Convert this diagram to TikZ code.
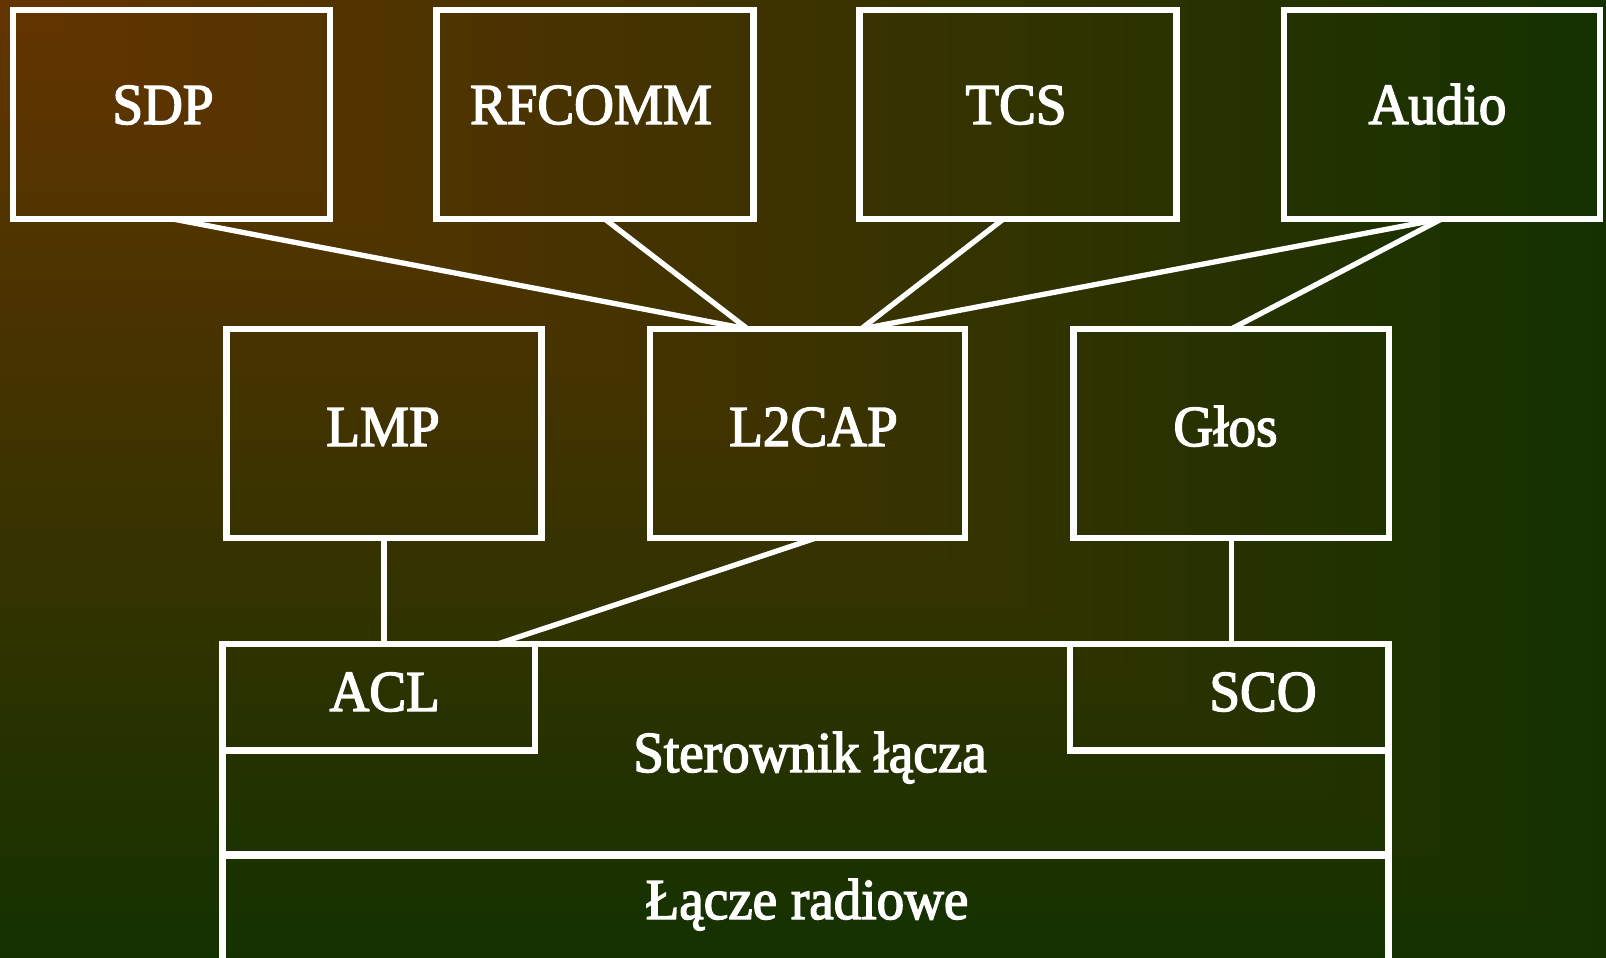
\documentclass[tikz,border=0pt]{standalone}
\usepackage{fontspec}
\setmainfont{Liberation Serif}[FakeStretch=0.95,FakeBold=2.5]
\usetikzlibrary{calc}
\definecolor{gStart}{RGB}{100,52,0}
\definecolor{gEnd}{RGB}{20,50,0}
\tikzset{
  box/.style={draw=white, line width=6.5pt, inner sep=0pt, outer sep=0pt},
  lbl/.style={text=white, inner sep=0pt, outer sep=0pt, anchor=base,
              font=\fontsize{58}{60}\selectfont},
  conn/.style={draw=white, line width=5.3pt},
  divider/.style={draw=white, line width=8.3pt}
}
\begin{document}
\begin{tikzpicture}[x=1pt,y=-1pt]
\useasboundingbox (0,0) rectangle (1606,958);
\clip (0,0) rectangle (1606,958);
% background: rectangular gradient from the top-left corner
\foreach \i in {100,99,...,1}{
  \fill[gEnd!\i!gStart] (0,0) rectangle ({16.06*\i},{9.58*\i});
}
% top row
\node[box, minimum width=317pt, minimum height=208.5pt] (sdp)    at (171.5,114.5) {};
\node[box, minimum width=317pt, minimum height=208.5pt] (rfcomm) at (595,114.5) {};
\node[box, minimum width=317pt, minimum height=208.5pt] (tcs)    at (1018,114.5) {};
\node[box, minimum width=316pt, minimum height=208.5pt] (audio)  at (1442,114.5) {};
% middle row
\node[box, minimum width=315pt, minimum height=209pt] (lmp)   at (384,433.5) {};
\node[box, minimum width=315pt, minimum height=209pt] (l2cap) at (807.5,433.5) {};
\node[box, minimum width=315.5pt, minimum height=209pt] (glos) at (1231.25,433.5) {};
% link controller
\node[box, minimum width=1165.8pt, minimum height=336pt] (link) at (805.6,812) {};
\node[box, minimum width=312.3pt, minimum height=106.5pt] (acl) at (378.85,697.25) {};
\node[box, minimum width=318.5pt, minimum height=106.5pt] (sco) at (1229.25,697.25) {};
\coordinate (divL) at (222.7,855);
\coordinate (divR) at (1388.5,855);
\draw[divider] (divL) -- (divR);
% labels
\node[lbl] (tsdp)    at (163,124) {SDP};
\node[lbl] (trfcomm) at (591,124) {RFCOMM};
\node[lbl] (ttcs)    at (1016,124) {TCS};
\node[lbl] (taudio)  at (1437.5,124) {Audio};
\node[lbl] (tlmp)    at (383,446) {LMP};
\node[lbl] (tl2cap)  at (813.5,446) {L2CAP};
\node[lbl] (tglos)   at (1225.5,446) {Głos};
\node[lbl] (tacl)    at (384.7,711) {ACL};
\node[lbl] (tsco)    at (1263,711) {SCO};
\node[lbl] (tlink)   at (810,772) {Sterownik łącza};
\node[lbl] (tradio)  at (807,919) {Łącze radiowe};
% connectors
\coordinate (l2a) at ($(l2cap.north west)!0.31!(l2cap.north east)$);
\coordinate (l2b) at ($(l2cap.north west)!0.67!(l2cap.north east)$);
\draw[conn] (sdp.south) -- (l2a);
\draw[conn] ($(rfcomm.south west)!0.53!(rfcomm.south east)$) -- (l2a);
\draw[conn] ($(tcs.south west)!0.455!(tcs.south east)$) -- (l2b);
\draw[conn] (audio.south) -- (l2b);
\draw[conn] (audio.south) -- (glos.north);
\draw[conn] (lmp.south) -- (lmp.south |- acl.north);
\draw[conn] ($(l2cap.south west)!0.527!(l2cap.south east)$) -- ($(acl.north west)!0.88!(acl.north east)$);
\draw[conn] (glos.south) -- (glos.south |- sco.north);
\end{tikzpicture}
\end{document}
